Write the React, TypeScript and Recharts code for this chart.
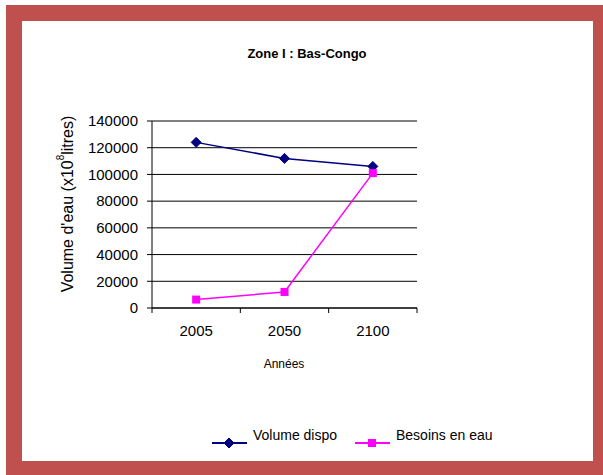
import React from 'react'
import { LineChart, Line, XAxis, YAxis, CartesianGrid, Legend } from 'recharts'

// Data
const years = ['2005', '2050', '2100']
const volumeDispo = [124000, 112000, 106000]
const besoinsEau = [6300, 12000, 101000]
const yTicks = [0, 20000, 40000, 60000, 80000, 100000, 120000, 140000]
const edgeTicks = [0, 1, 2, 3]

const COLORS = {
  frame: '#C0504D',
  volume: '#000080',
  besoins: '#FF00FF',
}

const FONT = 'Arial, "Liberation Sans", sans-serif'

// plot area box
const PLOT = { left: 152, top: 121, right: 417, bottom: 308 }
const HALF_BAND = (PLOT.right - PLOT.left) / years.length / 2
const LEGEND_H = 30
const XAXIS_H = 40

const data = years.map((year, i) => ({
  x: i + 0.5,
  year,
  volume: volumeDispo[i],
  besoins: besoinsEau[i],
}))

function Diamond(props: any) {
  const { cx, cy, fill } = props
  if (cx == null || cy == null) return null
  const r = 5
  return (
    <path
      d={`M${cx},${cy - r}L${cx + r},${cy}L${cx},${cy + r}L${cx - r},${cy}Z`}
      fill={fill}
      stroke={fill}
    />
  )
}

function Square(props: any) {
  const { cx, cy, fill } = props
  if (cx == null || cy == null) return null
  const s = 8
  return <rect x={cx - s / 2} y={cy - s / 2} width={s} height={s} fill={fill} />
}

// tick marks at the category edges, labels in the middle of each band
function XTick(props: any) {
  const { x, y, payload } = props
  const idx = payload.value
  if (idx >= years.length) return null
  return (
    <text
      x={x + HALF_BAND}
      y={y + 21}
      textAnchor="middle"
      fontSize={15}
      fontFamily={FONT}
      fill="#000"
    >
      {years[idx]}
    </text>
  )
}

function YLabel() {
  const cx = 67
  const cy = 204
  return (
    <text
      x={cx}
      y={cy}
      transform={`rotate(-90, ${cx}, ${cy})`}
      textAnchor="middle"
      dominantBaseline="central"
      fontSize={16}
      fontFamily={FONT}
      fill="#000"
    >
      Volume d'eau (x10
      <tspan fontSize={10} dy={-7}>
        8
      </tspan>
      <tspan dy={7}>litres)</tspan>
    </text>
  )
}

function LegendContent() {
  const items = [
    { name: 'Volume dispo', color: COLORS.volume, shape: 'diamond', x: 212 },
    { name: 'Besoins en eau', color: COLORS.besoins, shape: 'square', x: 355 },
  ]
  return (
    <svg width={603} height={LEGEND_H} style={{ overflow: 'visible' }}>
      {items.map((it) => (
        <g key={it.name}>
          <line x1={it.x} x2={it.x + 35} y1={18} y2={18} stroke={it.color} strokeWidth={2} />
          {it.shape === 'diamond' ? (
            <Diamond cx={it.x + 17} cy={18} fill={it.color} />
          ) : (
            <Square cx={it.x + 17} cy={18} fill={it.color} />
          )}
          <text
            x={it.x + 41}
            y={10}
            dominantBaseline="central"
            fontSize={14}
            fontFamily={FONT}
            fill="#000"
          >
            {it.name}
          </text>
        </g>
      ))}
    </svg>
  )
}

export default function App() {
  return (
    <div style={{ position: 'absolute', left: 0, top: 0, width: 603, height: 475, background: '#fff' }}>
      <div
        style={{
          position: 'absolute',
          left: 6,
          top: 5,
          width: 597,
          height: 470,
          background: COLORS.frame,
        }}
      />
      <div
        style={{
          position: 'absolute',
          left: 22,
          top: 21,
          width: 571,
          height: 440,
          background: '#fff',
        }}
      />
      <div style={{ position: 'absolute', left: 0, top: 0 }}>
        <LineChart
          width={603}
          height={475}
          data={data}
          margin={{
            top: PLOT.top,
            right: 603 - PLOT.right,
            bottom: 475 - PLOT.bottom - XAXIS_H - LEGEND_H,
            left: PLOT.left - 60,
          }}
        >
          <text
            x={307}
            y={53}
            textAnchor="middle"
            dominantBaseline="central"
            fontSize={13}
            fontWeight="bold"
            fontFamily={FONT}
            fill="#000"
          >
            Zone I : Bas-Congo
          </text>
          <YLabel />
          <text
            x={284}
            y={364}
            textAnchor="middle"
            dominantBaseline="central"
            fontSize={12}
            fontFamily={FONT}
            fill="#000"
          >
            Années
          </text>
          <CartesianGrid vertical={false} stroke="#000" strokeWidth={1} />
          <XAxis
            dataKey="x"
            type="number"
            domain={[0, years.length]}
            ticks={edgeTicks}
            interval={0}
            tick={<XTick />}
            tickSize={5}
            height={XAXIS_H}
            axisLine={{ stroke: '#000' }}
            tickLine={{ stroke: '#000' }}
          />
          <YAxis
            width={60}
            domain={[0, 140000]}
            ticks={yTicks}
            interval={0}
            tickSize={5}
            tickMargin={9}
            tick={{ fontSize: 15, fontFamily: FONT, fill: '#000' }}
            axisLine={{ stroke: '#000' }}
            tickLine={{ stroke: '#000' }}
          />
          <Line
            dataKey="volume"
            name="Volume dispo"
            stroke={COLORS.volume}
            strokeWidth={1.5}
            fill={COLORS.volume}
            dot={<Diamond fill={COLORS.volume} />}
            isAnimationActive={false}
          />
          <Line
            dataKey="besoins"
            name="Besoins en eau"
            stroke={COLORS.besoins}
            strokeWidth={1.5}
            fill={COLORS.besoins}
            dot={<Square fill={COLORS.besoins} />}
            isAnimationActive={false}
          />
          <Legend
            content={<LegendContent />}
            wrapperStyle={{ position: 'absolute', left: 0, top: 425, width: 603, height: LEGEND_H }}
          />
        </LineChart>
      </div>
    </div>
  )
}
